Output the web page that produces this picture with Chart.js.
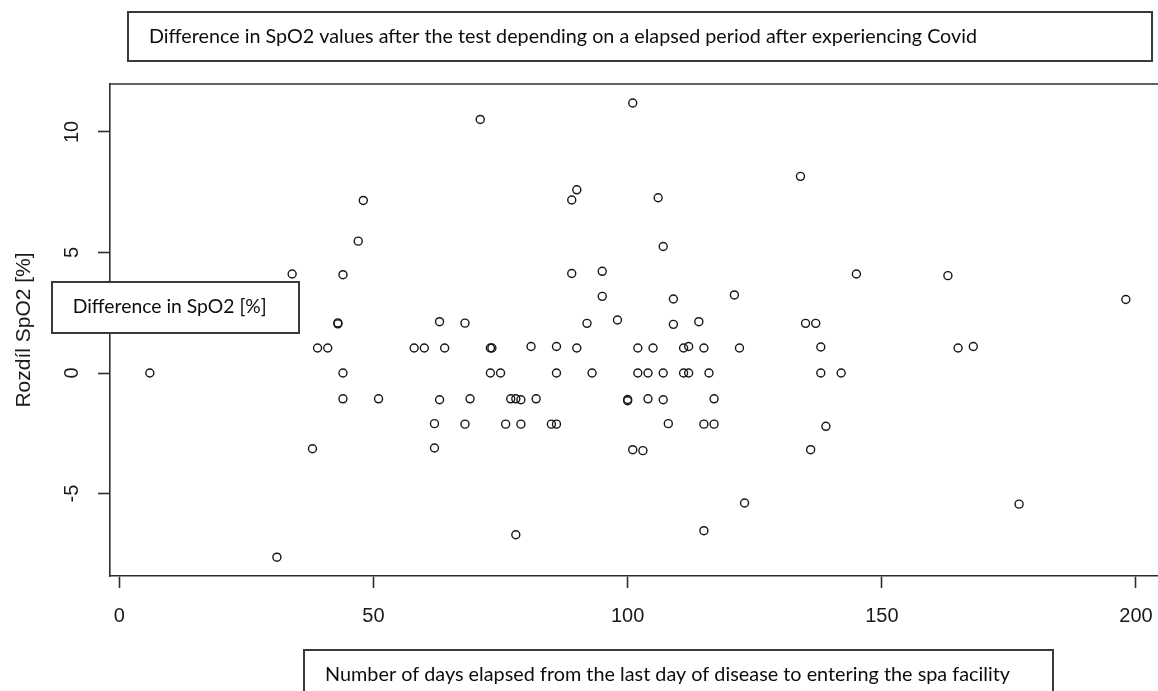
<!DOCTYPE html>
<html><head><meta charset="utf-8">
<script src="https://cdn.jsdelivr.net/npm/chart.js@4.4.1/dist/chart.umd.min.js"></script>
<style>html,body{margin:0;padding:0;background:#fff;overflow:hidden}#wrap{position:relative;width:1158px;height:691px}</style>
</head><body><div id="wrap"><canvas id="c" width="1158" height="691"></canvas></div>
<script>
// ---- data ----
const days = [6,31,34,38,39,41,43,43,44,44,44,47,48,51,58,60,62,62,63,63,64,68,68,69,71,73,73.3,73,75,76,77,78,79,78,79,81,82,85,86,86,86,89,89,90,90,92,93,95,95,98,100,100,101,101,102,102,103,104,104,105,106,107,107,107,108,109,109,111,112,111,112,114,115,115,115,116,117,117,121,122,123,134,135,137,136,138,138,139,142,145,163,165,168,177,198];
const spo2Diff = [0,-7.64,4.11,-3.14,1.04,1.04,2.04,2.08,4.08,0,-1.07,5.47,7.16,-1.07,1.04,1.04,-2.1,-3.11,2.13,-1.11,1.04,2.07,-2.12,-1.07,10.52,1.04,1.04,0,0,-2.12,-1.07,-1.07,-1.11,-6.71,-2.12,1.1,-1.07,-2.12,-2.12,1.1,0,4.13,7.18,7.6,1.04,2.06,0,4.22,3.18,2.2,-1.1,-1.15,11.2,-3.18,1.04,0,-3.22,0,-1.07,1.04,7.27,5.25,0,-1.11,-2.1,3.07,2.02,1.04,1.1,0,0,2.13,1.04,-2.12,-6.54,0,-1.07,-2.12,3.24,1.04,-5.39,8.16,2.06,2.06,-3.18,1.08,0,-2.21,0,4.11,4.04,1.04,1.1,-5.44,3.05];
const xTicks = [0,50,100,150,200];
const yTicks = [-5,0,5,10];
const chartTitle = "Difference in SpO2 values after the test depending on a elapsed period after experiencing Covid";
const yAxisTitle = "Rozdíl SpO2 [%]";
const yBoxLabel = "Difference in SpO2 [%]";
const xBoxLabel = "Number of days elapsed from the last day of disease to entering the spa facility";

const AXIS = '#2e2e2e';
const TXT = '#1a1a1a';
const RFONT = 'Liberation Sans, Arial, sans-serif';
const BOXFONT = 'Lato, sans-serif';
const BOXSIZE = 18.8;

const points = days.map((d, i) => ({x: d, y: spo2Diff[i]}));

function drawBox(ctx, l, t, r, b, text, tx, ty, tw) {
  ctx.save();
  ctx.fillStyle = '#ffffff';
  ctx.fillRect(l, t, r - l, b - t);
  ctx.strokeStyle = '#3a3a3a';
  ctx.lineWidth = 2;
  ctx.strokeRect(l, t, r - l, b - t);
  ctx.font = BOXSIZE + 'px ' + BOXFONT;
  const w = ctx.measureText(text).width;
  const sx = tw / w;
  ctx.fillStyle = '#0d0d0d';
  ctx.textAlign = 'left';
  ctx.textBaseline = 'alphabetic';
  ctx.translate(tx, ty);
  ctx.scale(sx, 1);
  ctx.fillText(text, 0, 0);
  ctx.restore();
}

const overlay = {
  id: 'overlay',
  afterDraw(chart) {
    const ctx = chart.ctx, a = chart.chartArea;
    ctx.save();
    ctx.strokeStyle = AXIS;
    ctx.lineWidth = 1.6;
    ctx.beginPath();
    ctx.moveTo(a.left, a.top);
    ctx.lineTo(a.right, a.top);
    ctx.stroke();
    ctx.restore();
    drawBox(ctx, 128, 12, 1152, 61, chartTitle, 149, 43.3, 828);
    drawBox(ctx, 52, 282, 299, 333, yBoxLabel, 72.7, 312.7, 194);
    drawBox(ctx, 304, 650, 1053, 700, xBoxLabel, 325, 680.7, 685);
  }
};

new Chart(document.getElementById('c'), {
  type: 'scatter',
  data: {
    datasets: [{
      data: points,
      pointStyle: 'circle',
      pointRadius: 4,
      pointHoverRadius: 4,
      borderWidth: 1.4,
      borderColor: '#161616',
      backgroundColor: 'rgba(0,0,0,0)',
      showLine: false
    }]
  },
  options: {
    responsive: false,
    animation: false,
    devicePixelRatio: 1,
    layout: {autoPadding: false, padding: {top: 84, left: 0, right: 0, bottom: 0}},
    plugins: {legend: {display: false}, tooltip: {enabled: false}, title: {display: false}},
    scales: {
      x: {
        type: 'linear', position: 'bottom', min: -1.83, max: 204.33,
        afterBuildTicks: s => { s.ticks = xTicks.map(v => ({value: v})); },
        afterFit: s => { s.height = 115; s.paddingLeft = 0; s.paddingRight = 0; },
        border: {display: true, color: AXIS, width: 1.6},
        grid: {display: true, drawOnChartArea: false, drawTicks: true, tickLength: 12, tickColor: AXIS, tickWidth: 1.6},
        ticks: {color: TXT, font: {family: RFONT, size: 20}, padding: 16, minRotation: 0, maxRotation: 0, autoSkip: false}
      },
      y: {
        type: 'linear', position: 'left', min: -8.42, max: 11.99,
        afterBuildTicks: s => { s.ticks = yTicks.map(v => ({value: v})); },
        afterFit: s => { s.width = 110; s.paddingTop = 0; s.paddingBottom = 0; },
        border: {display: true, color: AXIS, width: 1.6},
        grid: {display: true, drawOnChartArea: false, drawTicks: true, tickLength: 12, tickColor: AXIS, tickWidth: 1.6},
        ticks: {color: TXT, font: {family: RFONT, size: 20}, minRotation: 90, maxRotation: 90, padding: 14, crossAlign: 'center', autoSkip: false},
        title: {display: true, text: yAxisTitle, color: TXT, font: {family: RFONT, size: 21}, padding: {top: 12, bottom: 0}}
      }
    }
  },
  plugins: [overlay]
});
</script>
</body></html>
